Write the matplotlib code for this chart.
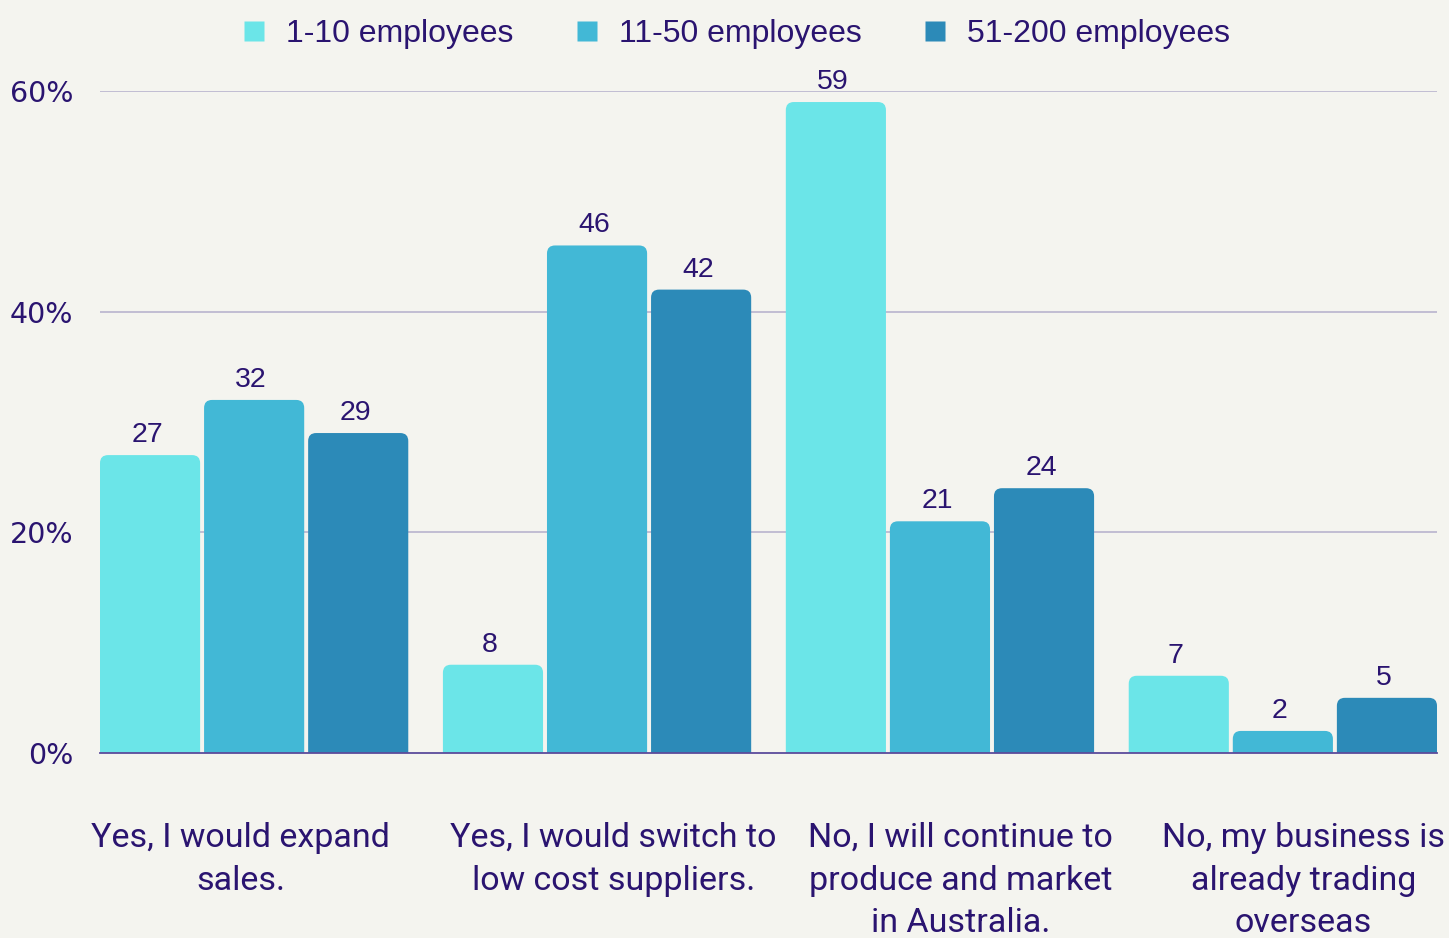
import matplotlib
matplotlib.use("Agg")
import matplotlib.pyplot as plt
from matplotlib.patches import FancyBboxPatch
from matplotlib.lines import Line2D
from matplotlib.transforms import blended_transform_factory

categories = [
    "Yes, I would expand\nsales.",
    "Yes, I would switch to\nlow cost suppliers.",
    "No, I will continue to\nproduce and market\nin Australia.",
    "No, my business is\nalready trading\noverseas",
]
series_names = ["1-10 employees", "11-50 employees", "51-200 employees"]
small = [27, 8, 59, 7]
medium = [32, 46, 21, 2]
large = [29, 42, 24, 5]
series_values = [small, medium, large]
y_ticks = [0, 20, 40, 60]
y_tick_labels = ["0%", "20%", "40%", "60%"]

colors = ["#6BE5E8", "#42B8D6", "#2C8AB8"]
bg = "#F4F4EF"
text_color = "#2A1470"
grid_color = "#BDB9D1"
base_color = "#5B4B9B"

W, H, DPI = 1449, 938, 100
fig = plt.figure(figsize=(W / DPI, H / DPI), dpi=DPI, facecolor=bg)
ax_left, ax_right, ax_top, ax_bottom = 100, 1437, 91, 753
ax = fig.add_axes([ax_left / W, (H - ax_bottom) / H,
                   (ax_right - ax_left) / W, (ax_bottom - ax_top) / H])
ax.set_facecolor(bg)

step = 0.3035
bar_w = 0.292
x_min = -step - bar_w / 2
x_max = 3 + step + bar_w / 2
ax.set_xlim(x_min, x_max)
ax.set_ylim(0, 60)

dx = (x_max - x_min) / (ax_right - ax_left)
dy = 60 / (ax_bottom - ax_top)
radius_px = 8

for j, vals in enumerate(series_values):
    for i, v in enumerate(vals):
        xc = i + (j - 1) * step
        extra = 2 * radius_px * dy
        patch = FancyBboxPatch(
            (xc - bar_w / 2, -extra), bar_w, v + extra,
            boxstyle=f"round,pad=0,rounding_size={radius_px * dx}",
            mutation_aspect=dy / dx,
            facecolor=colors[j], edgecolor="none", zorder=2)
        ax.add_patch(patch)
        ax.annotate(str(v), (xc, v), xytext=(-3, 7), textcoords="offset pixels",
                    ha="center", va="bottom", fontsize=20.5,
                    family="Liberation Sans", color=text_color,
                    annotation_clip=False, zorder=4)

for t in y_ticks[1:]:
    ax.axhline(t, color=grid_color, lw=1.3, zorder=1)
ax.axhline(0, color=base_color, lw=1.3, zorder=3, clip_on=False)

for s in ax.spines.values():
    s.set_visible(False)
ax.set_yticks(y_ticks)
ax.set_yticklabels(y_tick_labels, family="DejaVu Sans", fontsize=20.5,
                   color=text_color)
ax.tick_params(axis="y", length=0, pad=19)
ax.set_xticks([])

label_x = [-0.04, 1.048, 2.06, 3.06]
trans = blended_transform_factory(ax.transData, fig.transFigure)
for xl, lab in zip(label_x, categories):
    ax.text(xl, (H - 822) / H, lab, transform=trans, ha="center", va="top",
            fontsize=24.5, family="Roboto", color=text_color,
            linespacing=1.42, clip_on=False)

handles = [Line2D([], [], marker="s", linestyle="none", markersize=15,
                  markerfacecolor=c, markeredgecolor="none") for c in colors]
fig.legend(handles, series_names, loc="center", bbox_to_anchor=(736 / W, 1 - 34 / H),
           ncol=3, frameon=False, prop={"family": "Liberation Sans", "size": 23},
           labelcolor=text_color, handlelength=0.8, handletextpad=0.6,
           columnspacing=1.9, borderaxespad=0)

fig.savefig("out.png", dpi=DPI, facecolor=bg)
